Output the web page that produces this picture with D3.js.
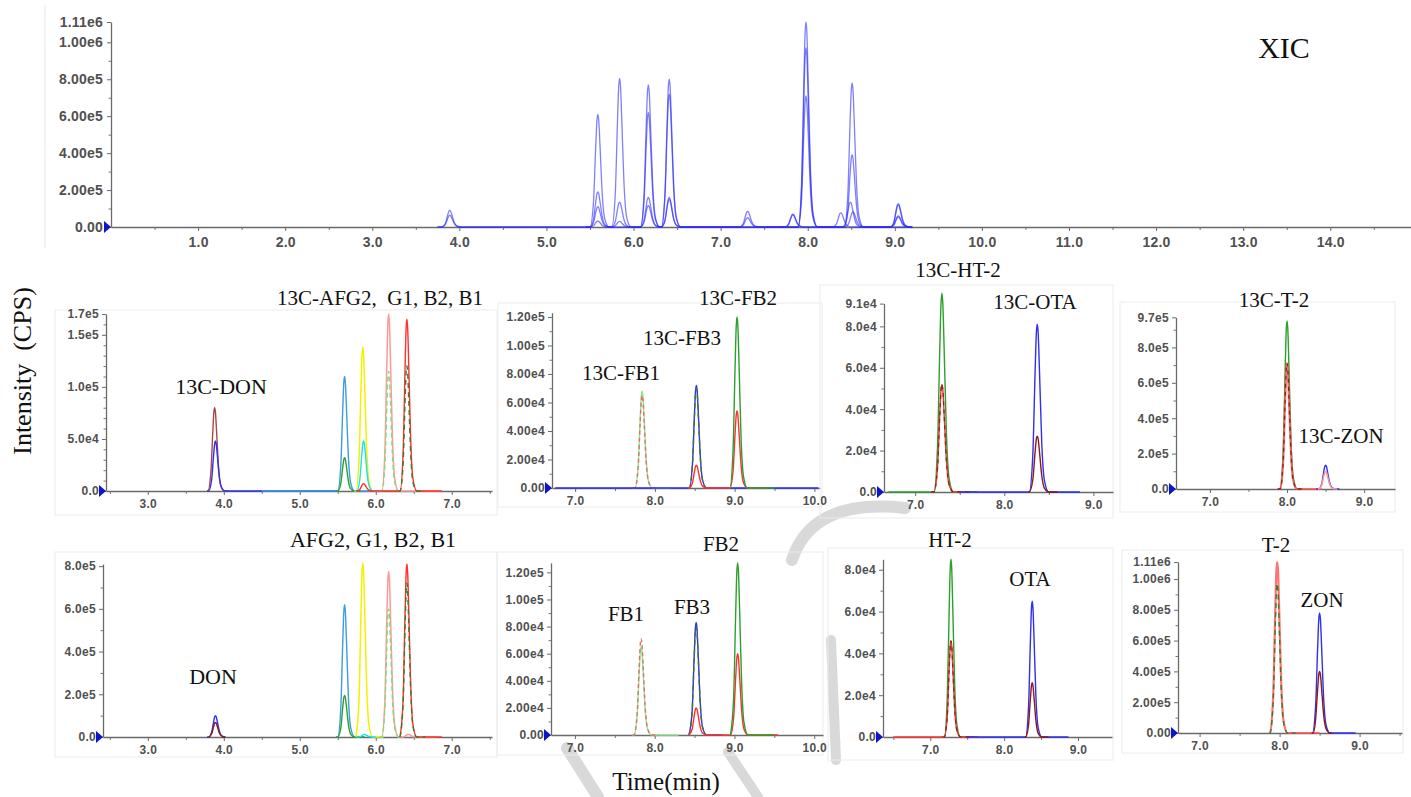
<!DOCTYPE html>
<html><head><meta charset="utf-8">
<script src="https://cdn.jsdelivr.net/npm/d3@7"></script>
<style>
body{margin:0;background:#fff;}
svg{display:block;}
</style></head><body>
<svg id="c" width="1411" height="797"></svg>
<script>
// ---------- DATA ----------
// sampling grid of one chromatographic peak (min from apex) and relative heights read from the peak shapes
const peakOffsets = [-0.09,-0.05,-0.025,-0.01,0,0.01,0.025,0.05,0.08,0.13];
const peakProfile = [0,0.22,0.7,0.95,1,0.95,0.72,0.3,0.07,0];

// XIC overlay (retention time, intensity)
const xicTraces = [
  {key:"xic", range:[3.75,9.2], peaks:[[3.89,9.0e4],[5.59,6.1e5],[5.84,8.05e5],[6.17,7.7e5],[6.41,8.0e5],[7.31,8.5e4],[7.98,1.11e6],[8.51,7.8e5],[9.04,1.27e5]]},
  {key:"xic", range:[3.75,9.2], peaks:[[3.89,6.4e4],[5.59,1.9e5],[5.84,1.35e5],[6.17,6.2e5],[6.41,7.2e5],[7.31,5.0e4],[7.98,9.7e5],[8.51,3.9e5],[9.04,1.2e5]]},
  {key:"xic", range:[5.45,9.2], peaks:[[5.59,1.1e5],[5.84,3.0e4],[6.17,1.6e5],[6.41,1.6e5],[7.98,7.1e5],[8.49,1.35e5],[9.04,6.0e4]]},
  {key:"xic", range:[5.45,9.2], peaks:[[5.59,3.2e4],[6.17,1.15e5],[6.41,1.5e5],[7.83,7.0e4],[8.38,7.7e4]]},
  {key:"xic", range:[7.7,9.2], peaks:[[7.83,6.5e4],[8.52,8.2e4],[9.04,5.4e4]]}
];
// 13C internal standards
const isoAfgTraces = [
  {key:"brown", range:[3.78,4.05], peaks:[[3.88,8.0e4]]},
  {key:"blue", range:[3.78,5.5], peaks:[[3.89,4.8e4]]},
  {key:"steel", range:[4.5,5.95], peaks:[[5.59,1.1e5]]},
  {key:"green", range:[5.48,5.8], peaks:[[5.59,3.2e4]]},
  {key:"yellow", range:[5.72,6.05], peaks:[[5.83,1.38e5]]},
  {key:"cyan", range:[5.72,6.05], peaks:[[5.84,4.8e4]]},
  {key:"pink", range:[6.05,6.85], peaks:[[6.17,1.7e5]]},
  {key:"lgreenDash", range:[6.05,6.35], peaks:[[6.17,1.15e5]]},
  {key:"red", range:[5.74,6.87], peaks:[[5.84,7.0e3],[6.41,1.65e5]]},
  {key:"dgreenDash", range:[6.3,6.6], peaks:[[6.41,1.2e5]]}
];
const isoFbTraces = [
  {key:"lgreen", range:[7.72,8.2], peaks:[[7.84,6.8e4]]},
  {key:"redDash", range:[7.72,8.05], peaks:[[7.84,6.5e4]]},
  {key:"blue", range:[6.75,10.05], peaks:[[8.52,7.2e4]]},
  {key:"dgreenDash", range:[8.42,8.75], peaks:[[8.52,7.0e4]]},
  {key:"red", range:[8.42,9.4], peaks:[[8.52,1.6e4],[9.03,5.4e4]]},
  {key:"green", range:[8.93,9.5], peaks:[[9.03,1.2e5]]}
];
const isoHtTraces = [
  {key:"green", range:[6.7,7.7], peaks:[[7.3,9.6e4]]},
  {key:"red", range:[7.18,7.62], peaks:[[7.3,5.2e4]]},
  {key:"darkredDash", range:[7.18,7.62], peaks:[[7.3,5.2e4]]},
  {key:"blue", range:[7.5,8.85], peaks:[[8.37,8.1e4]]},
  {key:"darkred", range:[8.27,8.6], peaks:[[8.37,2.7e4]]}
];
const isoT2Traces = [
  {key:"green", range:[7.88,8.2], peaks:[[8.0,9.5e5]]},
  {key:"redWide", range:[7.88,8.45], peaks:[[8.0,7.1e5]]},
  {key:"darkredDash", range:[7.88,8.2], peaks:[[8.0,7.1e5]]},
  {key:"blue", range:[8.38,8.68], peaks:[[8.5,1.35e5]]},
  {key:"pink", range:[8.4,8.65], peaks:[[8.5,1.0e5]]}
];
// native mycotoxins
const afgTraces = [
  {key:"blue", range:[3.78,4.02], peaks:[[3.89,1.0e5]]},
  {key:"darkred", range:[3.8,4.0], peaks:[[3.89,6.8e4]]},
  {key:"steel", range:[5.48,5.85], peaks:[[5.59,6.2e5]]},
  {key:"green", range:[5.48,5.85], peaks:[[5.59,1.95e5]]},
  {key:"yellow", range:[5.74,6.1], peaks:[[5.83,8.15e5]]},
  {key:"cyan", range:[5.75,6.0], peaks:[[5.85,1.2e4]]},
  {key:"pink", range:[6.07,6.8], peaks:[[6.17,7.75e5],[6.43,1.2e4]]},
  {key:"lgreenDash", range:[6.05,6.35], peaks:[[6.17,6.0e5]]},
  {key:"red", range:[6.32,6.87], peaks:[[6.41,8.1e5]]},
  {key:"dgreenDash", range:[6.32,6.65], peaks:[[6.41,7.2e5]]}
];
const fbTraces = [
  {key:"lgreen", range:[7.72,8.3], peaks:[[7.83,6.5e4]]},
  {key:"redDash", range:[7.72,8.05], peaks:[[7.83,7.1e4]]},
  {key:"blue", range:[8.43,8.85], peaks:[[8.52,8.3e4]]},
  {key:"dgreenDash", range:[8.43,8.75], peaks:[[8.52,8.0e4]]},
  {key:"red", range:[8.43,9.55], peaks:[[8.52,2.0e4],[9.04,6.0e4]]},
  {key:"green", range:[8.95,9.5], peaks:[[9.04,1.27e5]]}
];
const htTraces = [
  {key:"green", range:[7.15,7.6], peaks:[[7.28,8.5e4]]},
  {key:"red", range:[6.5,7.65], peaks:[[7.28,4.6e4]]},
  {key:"darkredDash", range:[7.18,7.55], peaks:[[7.28,4.6e4]]},
  {key:"blue", range:[7.5,8.87], peaks:[[8.38,6.5e4]]},
  {key:"darkred", range:[8.28,8.6], peaks:[[8.38,2.6e4]]}
];
const t2Traces = [
  {key:"redWide", range:[7.87,8.5], peaks:[[7.97,1.11e6]]},
  {key:"dgreenDash", range:[7.87,8.2], peaks:[[7.97,9.7e5]]},
  {key:"blue", range:[8.4,8.95], peaks:[[8.5,7.8e5]]},
  {key:"darkred", range:[8.42,8.65], peaks:[[8.5,4.0e5]]}
];

// tick values and labels
const xicYTicks = [0,2e5,4e5,6e5,8e5,1e6,1.11e6];
const xicYLabels = ["0.00","2.00e5","4.00e5","6.00e5","8.00e5","1.00e6","1.11e6"];
const xicXTicks = [1,2,3,4,5,6,7,8,9,10,11,12,13,14];
const xicXLabels = ["1.0","2.0","3.0","4.0","5.0","6.0","7.0","8.0","9.0","10.0","11.0","12.0","13.0","14.0"];
const afgXTicks = [3,4,5,6,7], afgXLabels = ["3.0","4.0","5.0","6.0","7.0"];
const fbXTicks = [7,8,9,10], fbXLabels = ["7.0","8.0","9.0","10.0"];
const lateXTicks = [7,8,9], lateXLabels = ["7.0","8.0","9.0"];
const isoAfgYTicks = [0,5e4,1e5,1.5e5,1.7e5], isoAfgYLabels = ["0.0","5.0e4","1.0e5","1.5e5","1.7e5"];
const fbYTicks = [0,2e4,4e4,6e4,8e4,1e5,1.2e5], fbYLabels = ["0.00","2.00e4","4.00e4","6.00e4","8.00e4","1.00e5","1.20e5"];
const isoHtYTicks = [0,2e4,4e4,6e4,8e4,9.1e4], isoHtYLabels = ["0.0","2.0e4","4.0e4","6.0e4","8.0e4","9.1e4"];
const isoT2YTicks = [0,2e5,4e5,6e5,8e5,9.7e5], isoT2YLabels = ["0.0","2.0e5","4.0e5","6.0e5","8.0e5","9.7e5"];
const afgYTicks = [0,2e5,4e5,6e5,8e5], afgYLabels = ["0.0","2.0e5","4.0e5","6.0e5","8.0e5"];
const htYTicks = [0,2e4,4e4,6e4,8e4], htYLabels = ["0.0","2.0e4","4.0e4","6.0e4","8.0e4"];
const t2YTicks = [0,2e5,4e5,6e5,8e5,1e6,1.11e6], t2YLabels = ["0.00","2.00e5","4.00e5","6.00e5","8.00e5","1.00e6","1.11e6"];

// ---------- STYLES ----------
const styles = {
  xic:{c:"#2b2bff", w:1.3, o:0.6},
  brown:{c:"#a84848", w:1.4},
  blue:{c:"#3030f0", w:1.4},
  steel:{c:"#3d9ee0", w:1.4},
  green:{c:"#2ca02c", w:1.4},
  yellow:{c:"#f2f200", w:1.5},
  cyan:{c:"#1ce0f0", w:1.4},
  red:{c:"#ff3030", w:1.4},
  redWide:{c:"#ff5050", w:2.2, o:0.8},
  pink:{c:"#ff9a9a", w:1.5},
  lgreen:{c:"#8fe88f", w:1.4},
  lgreenDash:{c:"#7fdc7f", w:1.4, d:"5,3"},
  dgreenDash:{c:"#3d7a2a", w:1.4, d:"5,4"},
  redDash:{c:"#e07070", w:1.4, d:"4,3"},
  darkred:{c:"#8b1a1a", w:1.4},
  darkredDash:{c:"#7a2a2a", w:1.3, d:"4,4"}
};
const serif = "'Liberation Serif','Times New Roman',serif";
const sans = "'Liberation Sans',Arial,sans-serif";

// ---------- LAYOUT ----------
const panels = [
  {traces:xicTraces, xr:[111,1413], xd:[0,14.95], yr:[227,22], yd:[0,1.11e6], xt:xicXTicks, xl:xicXLabels, yt:xicYTicks, yl:xicYLabels, ymin:1e5, big:true},
  {traces:isoAfgTraces, xr:[106,492], xd:[2.45,7.53], yr:[491,314], yd:[0,1.7e5], xt:afgXTicks, xl:afgXLabels, yt:isoAfgYTicks, yl:isoAfgYLabels, ymin:1e4, frame:[55,310,442,205]},
  {traces:isoFbTraces, xr:[552,820], xd:[6.71,10.07], yr:[488,312.7], yd:[0,1.23e5], xt:fbXTicks, xl:fbXLabels, yt:fbYTicks, yl:fbYLabels, ymin:1e4, frame:[498,303,324,204]},
  {traces:isoHtTraces, xr:[884,1113], xd:[6.65,9.22], yr:[492,303.6], yd:[0,9.1e4], xt:lateXTicks, xl:lateXLabels, yt:isoHtYTicks, yl:isoHtYLabels, ymin:1e4, frame:[820,285,293,233]},
  {traces:isoT2Traces, xr:[1176,1395], xd:[6.56,9.4], yr:[489,317.3], yd:[0,9.7e5], xt:lateXTicks, xl:lateXLabels, yt:isoT2YTicks, yl:isoT2YLabels, ymin:1e5, frame:[1120,302,275,210]},
  {traces:afgTraces, xr:[103,492], xd:[2.41,7.53], yr:[737,564], yd:[0,8.1e5], xt:afgXTicks, xl:afgXLabels, yt:afgYTicks, yl:afgYLabels, ymin:1e5, frame:[55,552,442,205]},
  {traces:fbTraces, xr:[551,823], xd:[6.7,10.11], yr:[735,562.9], yd:[0,1.27e5], xt:fbXTicks, xl:fbXLabels, yt:fbYTicks, yl:fbYLabels, ymin:1e4, frame:[497,552,326,203]},
  {traces:htTraces, xr:[883,1112], xd:[6.36,9.46], yr:[737,559.3], yd:[0,8.5e4], xt:lateXTicks, xl:lateXLabels, yt:htYTicks, yl:htYLabels, ymin:1e4, frame:[828,548,285,212]},
  {traces:t2Traces, xr:[1178,1402], xd:[6.73,9.53], yr:[733,562], yd:[0,1.11e6], xt:lateXTicks, xl:lateXLabels, yt:t2YTicks, yl:t2YLabels, ymin:1e5, frame:[1122,550,281,203]}
];

const labels = [
  {t:"XIC", x:1284, y:58, s:30},
  {t:"13C-AFG2,  G1, B2, B1", x:380, y:305, s:21},
  {t:"13C-DON", x:221, y:394, s:22},
  {t:"13C-FB2", x:738, y:305, s:21},
  {t:"13C-FB3", x:682, y:345, s:21},
  {t:"13C-FB1", x:621, y:380, s:21},
  {t:"13C-HT-2", x:958, y:277, s:21},
  {t:"13C-OTA", x:1035, y:309, s:21},
  {t:"13C-T-2", x:1274, y:307, s:21},
  {t:"13C-ZON", x:1341, y:443, s:21},
  {t:"AFG2, G1, B2, B1", x:373, y:547, s:22},
  {t:"DON", x:213, y:684, s:22},
  {t:"FB2", x:721, y:551, s:21},
  {t:"FB3", x:692, y:614, s:21},
  {t:"FB1", x:626, y:621, s:21},
  {t:"HT-2", x:950, y:547, s:21},
  {t:"OTA", x:1030, y:586, s:21},
  {t:"T-2", x:1276, y:552, s:21},
  {t:"ZON", x:1322, y:607, s:21},
  {t:"Time(min)", x:666, y:790, s:25}
];

// ---------- DRAW ----------
const svg = d3.select("#c");
svg.append("rect").attr("width",1411).attr("height",797).attr("fill","#fff");
// faint watermark strokes behind the panels
const wm = svg.append("g").attr("fill","none").attr("stroke","#d9d9d9").attr("stroke-linecap","round");
wm.append("path").attr("d","M792,560 Q812,498 905,508").attr("stroke-width",12);
wm.append("path").attr("d","M567,748 L598,797").attr("stroke-width",12);
wm.append("path").attr("d","M831,640 L836,760").attr("stroke-width",10);
wm.append("path").attr("d","M728,752 L758,797").attr("stroke-width",10);
// faint screenshot border of top panel
svg.append("line").attr("x1",45).attr("x2",45).attr("y1",5).attr("y2",248).attr("stroke","#e6e6e6");

function buildPoints(tr){
  const pts=[[tr.range[0],0]];
  tr.peaks.forEach(([rt,h])=>peakOffsets.forEach((o,i)=>pts.push([rt+o,h*peakProfile[i]])));
  pts.push([tr.range[1],0]);
  pts.sort((a,b)=>a[0]-b[0]);
  return pts;
}

panels.forEach(p=>{
  const g = svg.append("g");
  if(p.frame){
    g.append("rect").attr("x",p.frame[0]).attr("y",p.frame[1]).attr("width",p.frame[2]).attr("height",p.frame[3])
      .attr("fill","none").attr("stroke","#ececec").attr("stroke-width",1);
  }
  const x = d3.scaleLinear().domain(p.xd).range(p.xr);
  const y = d3.scaleLinear().domain(p.yd).range(p.yr);
  const fs = p.big?14:12;
  // minor ticks
  const xMinor = d3.range(Math.ceil(p.xd[0]*2)/2, p.xd[1], 0.5).filter(v=>Math.abs(v-Math.round(v))>0.01);
  const yMinor = d3.range(p.ymin, p.yd[1], p.ymin).filter(v=>!p.yt.some(t=>Math.abs(t-v)<p.ymin*0.3));
  g.append("g").attr("transform",`translate(0,${p.yr[0]})`)
    .call(d3.axisBottom(x).tickValues(xMinor).tickSize(3).tickFormat("").tickSizeOuter(0))
    .call(a=>a.select(".domain").remove()).selectAll("line").attr("stroke","#777");
  g.append("g").attr("transform",`translate(${p.xr[0]},0)`)
    .call(d3.axisLeft(y).tickValues(yMinor).tickSize(2.5).tickFormat("").tickSizeOuter(0))
    .call(a=>a.select(".domain").remove()).selectAll("line").attr("stroke","#777");
  // x axis
  const xa = g.append("g").attr("transform",`translate(0,${p.yr[0]})`)
    .call(d3.axisBottom(x).tickValues(p.xt).tickFormat((d,i)=>p.xl[i]).tickSize(4).tickPadding(p.big?6:4).tickSizeOuter(0));
  // y axis
  const ya = g.append("g").attr("transform",`translate(${p.xr[0]},0)`)
    .call(d3.axisLeft(y).tickValues(p.yt).tickFormat((d,i)=>p.yl[i]).tickSize(4).tickPadding(p.big?4:3).tickSizeOuter(0));
  [xa,ya].forEach(a=>{
    a.select(".domain").attr("stroke","#6a6a6a").attr("stroke-width",1.3);
    a.selectAll(".tick line").attr("stroke","#6a6a6a");
    a.selectAll(".tick text").attr("fill","#505050").style("font-family",sans).style("font-size",fs+"px")
      .style("font-weight","bold").style("letter-spacing", p.big?"0.2px":"0.3px");
  });
  // traces
  const line = d3.line().x(d=>x(d[0])).y(d=>y(d[1])).curve(d3.curveMonotoneX);
  p.traces.forEach(tr=>{
    const st = styles[tr.key];
    g.append("path").attr("d",line(buildPoints(tr))).attr("fill","none")
      .attr("stroke",st.c).attr("stroke-width",st.w).attr("stroke-opacity",st.o||1)
      .attr("stroke-dasharray",st.d||null).attr("stroke-linejoin","round");
  });
  // origin marker
  const ox = p.xr[0], oy = p.yr[0];
  g.append("path").attr("d",`M${ox-7},${oy-6}L${ox},${oy}L${ox-7},${oy+6}Z`).attr("fill","#1212c8");
});

labels.forEach(l=>{
  svg.append("text").attr("x",l.x).attr("y",l.y).attr("text-anchor","middle")
    .style("font-family",serif).style("font-size",l.s+"px").attr("fill","#111")
    .style("white-space","pre").text(l.t);
});
svg.append("text").attr("transform","translate(31,371) rotate(-90)").attr("text-anchor","middle")
  .style("font-family",serif).style("font-size","26px").attr("fill","#111")
  .style("white-space","pre").text("Intensity  (CPS)");
</script>
</body></html>
